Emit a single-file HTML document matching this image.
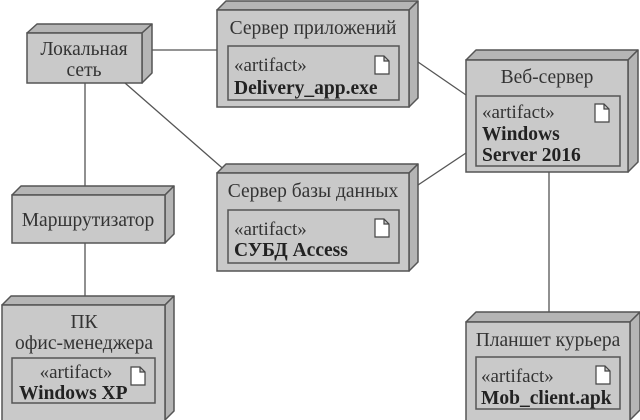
<!DOCTYPE html>
<html><head><meta charset="utf-8"><style>
html,body{margin:0;padding:0;background:#fff;width:640px;height:420px;overflow:hidden}
svg{display:block}
text{font-family:"Liberation Serif","DejaVu Serif",serif;fill:#333}
.t{font-size:19.5px}
.a{font-size:19px}
.b{font-size:19.5px;font-weight:bold;fill:#222}
.f{fill:#c9c9c9;stroke:#555;stroke-width:1.5}
.s{fill:#b5b5b5;stroke:#555;stroke-width:1.5;stroke-linejoin:round}
.i{fill:#c9c9c9;stroke:#555;stroke-width:1.5}
.l{stroke:#555;stroke-width:1.3;fill:none}
.d{fill:#fff;stroke:#444;stroke-width:1.2}
</style></head><body>
<svg width="640" height="420" viewBox="0 0 640 420" xmlns="http://www.w3.org/2000/svg">
<line class="l" x1="142" y1="50" x2="217" y2="50"/>
<line class="l" x1="125" y1="83" x2="228" y2="173"/>
<line class="l" x1="85" y1="83" x2="85" y2="186"/>
<line class="l" x1="85" y1="243" x2="85" y2="296"/>
<line class="l" x1="418" y1="62" x2="466" y2="95"/>
<line class="l" x1="418" y1="185" x2="466" y2="153"/>
<line class="l" x1="549" y1="172" x2="549" y2="313"/>

<polygon class="s" points="27,33 37,24 152,24 142,33"/>
<polygon class="s" points="142,33 152,24 152,73 142,83"/>
<rect class="f" x="27" y="33" width="115" height="50"/>
<text class="t" x="84" y="55" text-anchor="middle">Локальная</text>
<text class="t" x="84" y="76" text-anchor="middle">сеть</text>

<polygon class="s" points="217,10 226,1 418,1 409,10"/>
<polygon class="s" points="409,10 418,1 418,98 409,107"/>
<rect class="f" x="217" y="10" width="192" height="97"/>
<text class="t" x="313" y="34" text-anchor="middle">Сервер приложений</text>
<rect class="i" x="228" y="46" width="171" height="54"/>
<text class="a" x="234" y="71">«artifact»</text>
<text class="b" x="234" y="94">Delivery_app.exe</text>
<path class="d" d="M375,56 h9 l5,5 v13 h-14 z M384,56 v5 h5"/>

<polygon class="s" points="466,60 476,50 638,50 628,60"/>
<polygon class="s" points="628,60 638,50 638,162 628,172"/>
<rect class="f" x="466" y="60" width="162" height="112"/>
<text class="t" x="547" y="83" text-anchor="middle">Веб-сервер</text>
<rect class="i" x="476" y="96" width="144" height="70"/>
<text class="a" x="482" y="118">«artifact»</text>
<text class="b" x="482" y="140">Windows</text>
<text class="b" x="482" y="161">Server 2016</text>
<path class="d" d="M595,104 h9 l5,5 v13 h-14 z M604,104 v5 h5"/>

<polygon class="s" points="217,173 226,164 418,164 409,173"/>
<polygon class="s" points="409,173 418,164 418,262 409,271"/>
<rect class="f" x="217" y="173" width="192" height="98"/>
<text class="t" x="313" y="197" text-anchor="middle">Сервер базы данных</text>
<rect class="i" x="228" y="210" width="171" height="53"/>
<text class="a" x="234" y="235">«artifact»</text>
<text class="b" x="234" y="256">СУБД Access</text>
<path class="d" d="M375,219 h9 l5,5 v13 h-14 z M384,219 v5 h5"/>

<polygon class="s" points="12,195 21,186 174,186 165,195"/>
<polygon class="s" points="165,195 174,186 174,234 165,243"/>
<rect class="f" x="12" y="195" width="153" height="48"/>
<text class="t" x="88" y="226" text-anchor="middle">Маршрутизатор</text>

<polygon class="s" points="2,305 11,296 174,296 165,305"/>
<polygon class="s" points="165,305 174,296 174,411 165,420"/>
<rect class="f" x="2" y="305" width="163" height="116"/>
<text class="t" x="84" y="328" text-anchor="middle">ПК</text>
<text class="t" x="84" y="349" text-anchor="middle">офис-менеджера</text>
<rect class="i" x="12" y="358" width="143" height="45"/>
<text class="a" x="76" y="378" text-anchor="middle">«artifact»</text>
<text class="b" x="19" y="399">Windows XP</text>
<path class="d" d="M131,367 h9 l5,5 v13 h-14 z M140,367 v5 h5"/>

<polygon class="s" points="466,322 476,312 640,312 630,322"/>
<polygon class="s" points="630,322 640,312 640,410 630,420"/>
<rect class="f" x="466" y="322" width="164" height="99"/>
<text class="t" x="548" y="346" text-anchor="middle">Планшет курьера</text>
<rect class="i" x="476" y="357" width="144" height="52"/>
<text class="a" x="481" y="382">«artifact»</text>
<text class="b" x="481" y="404">Mob_client.apk</text>
<path class="d" d="M596,366 h9 l5,5 v13 h-14 z M605,366 v5 h5"/>
</svg>
</body></html>
